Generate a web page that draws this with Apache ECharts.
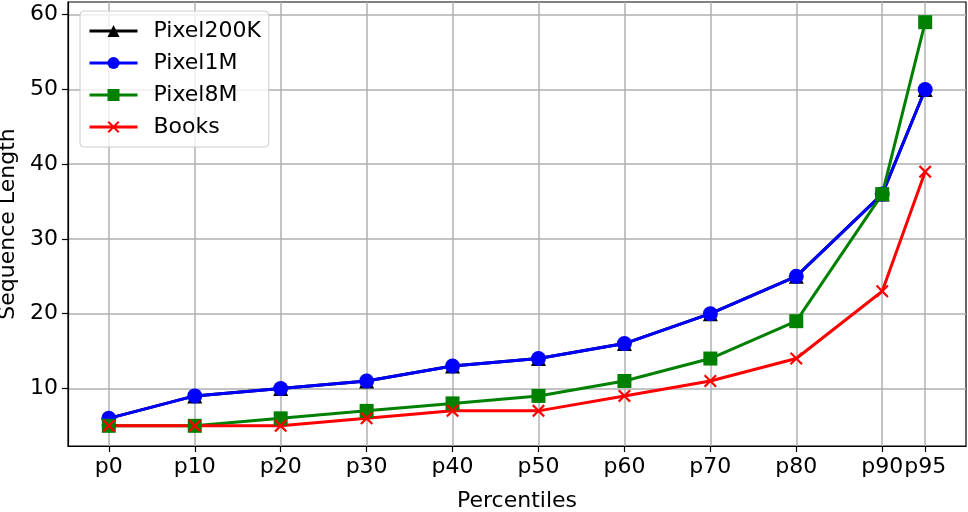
<!DOCTYPE html>
<html>
<head>
<meta charset="utf-8">
<script src="https://cdn.jsdelivr.net/npm/echarts@6/dist/echarts.min.js"></script>
<style>html,body{margin:0;padding:0;background:#fff}#c{width:968px;height:512px}</style>
</head>
<body>
<div id="c"></div>
<script>
const percentiles = [0, 10, 20, 30, 40, 50, 60, 70, 80, 90, 95];
const yTicks = [10, 20, 30, 40, 50, 60];
const pixel200K = [6, 9, 10, 11, 13, 14, 16, 20, 25, 36, 50];
const pixel1M = [6, 9, 10, 11, 13, 14, 16, 20, 25, 36, 50];
const pixel8M = [5, 5, 6, 7, 8, 9, 11, 14, 19, 36, 59];
const books = [5, 5, 5, 6, 7, 7, 9, 11, 14, 23, 39];

const FONT = 'DejaVu Sans';
const FS = 22;
const crossPath = 'path://M0,1.2 L1.2,0 L5,3.8 L8.8,0 L10,1.2 L6.2,5 L10,8.8 L8.8,10 L5,6.2 L1.2,10 L0,8.8 L3.8,5 Z';

function pairs(vals) { return percentiles.map((p, i) => [p, vals[i]]); }

function mk(name, vals, color, symbol, size) {
  return {
    name: name, type: 'line', data: pairs(vals),
    symbol: symbol, symbolSize: size,
    lineStyle: { color: color, width: 3 },
    itemStyle: { color: color },
    emphasis: { disabled: true },
    animation: false
  };
}

const chart = echarts.init(document.getElementById('c'));
chart.setOption({
  backgroundColor: '#fff',
  animation: false,
  textStyle: { fontFamily: FONT },
  grid: { left: 68, right: 2, top: 2, bottom: 66, show: true, borderColor: '#000', borderWidth: 1.2, containLabel: false, outerBoundsMode: 'none' },
  legend: {
    left: 80, top: 11, orient: 'vertical',
    itemWidth: 48, itemHeight: 15, itemGap: 10,
    padding: [9, 8, 9, 8],
    borderColor: '#cccccc', borderWidth: 1, borderRadius: 4,
    backgroundColor: 'rgba(255,255,255,0.8)',
    lineStyle: { width: 3 },
    textStyle: { fontFamily: FONT, fontSize: FS, color: '#000', padding: [0, 0, 0, 11] },
    data: ['Pixel200K', 'Pixel1M', 'Pixel8M', 'Books']
  },
  xAxis: {
    type: 'value', min: -4.75, max: 99.75,
    name: 'Percentiles', nameLocation: 'middle', nameGap: 44,
    nameTextStyle: { fontFamily: FONT, fontSize: FS, color: '#000' },
    axisLine: { show: true, onZero: false, lineStyle: { color: '#000', width: 1.2 } },
    axisTick: { show: true, length: 6, customValues: percentiles, lineStyle: { color: '#000', width: 1.2 } },
    axisLabel: { customValues: percentiles, formatter: v => 'p' + v, fontFamily: FONT, fontSize: FS, color: '#000', margin: 10, showMinLabel: true, showMaxLabel: true },
    splitLine: { show: true, lineStyle: { color: '#b0b0b0', width: 1.5 } }
  },
  yAxis: {
    type: 'value', min: 2.3, max: 61.7,
    name: 'Sequence Length', nameLocation: 'middle', nameGap: 44, nameRotate: 90,
    nameTextStyle: { fontFamily: FONT, fontSize: FS, color: '#000' },
    axisLine: { show: true, onZero: false, lineStyle: { color: '#000', width: 1.2 } },
    axisTick: { show: true, length: 6, customValues: yTicks, lineStyle: { color: '#000', width: 1.2 } },
    axisLabel: { customValues: yTicks, fontFamily: FONT, fontSize: FS, color: '#000', margin: 10 },
    splitLine: { show: true, lineStyle: { color: '#b0b0b0', width: 1.5 } }
  },
  series: [
    mk('Pixel200K', pixel200K, '#000000', 'triangle', 15),
    mk('Pixel1M', pixel1M, '#0000ff', 'circle', 15),
    mk('Pixel8M', pixel8M, '#008000', 'rect', 14),
    mk('Books', books, '#ff0000', crossPath, 13)
  ]
});
</script>
</body>
</html>
